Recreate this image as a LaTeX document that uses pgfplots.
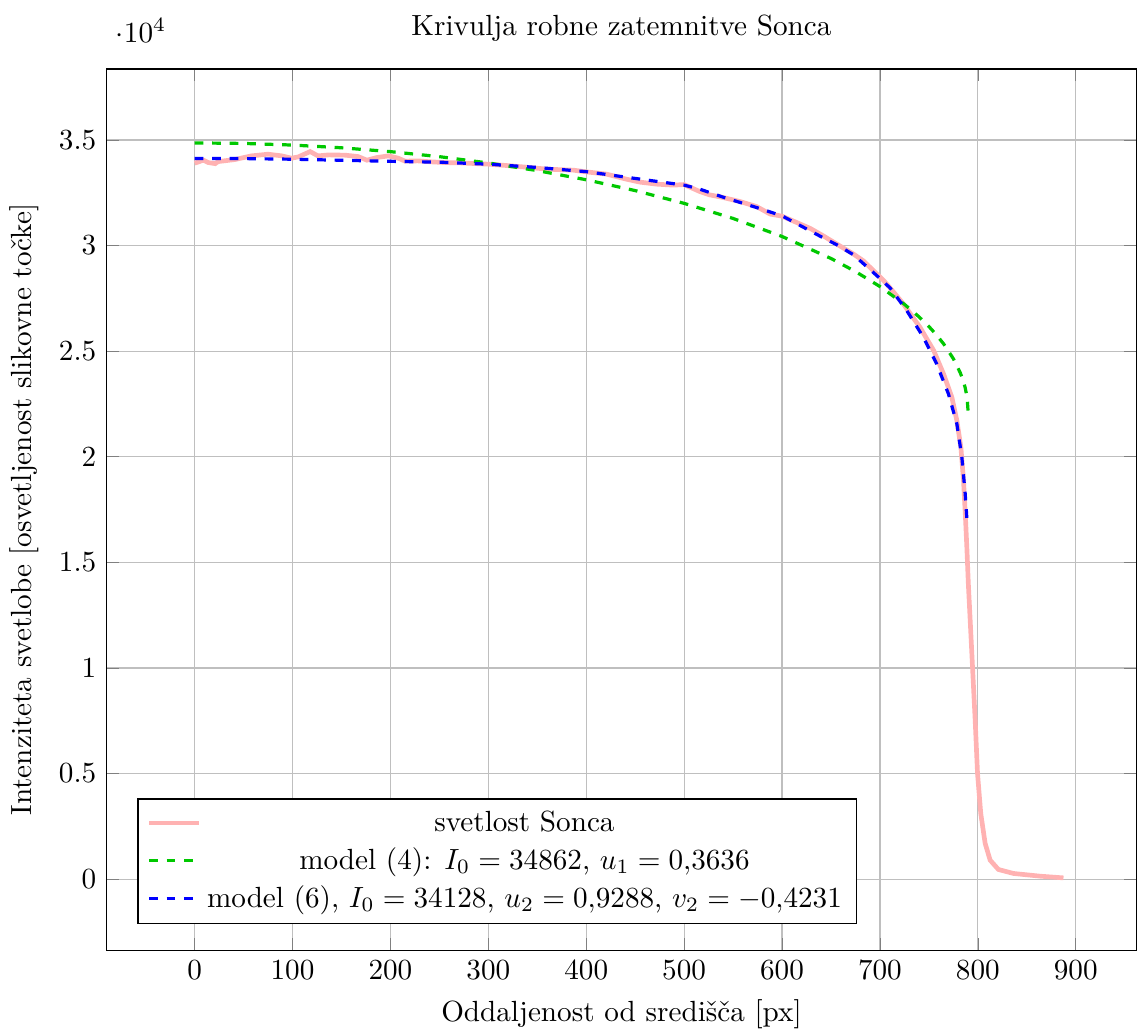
\documentclass[border=0pt]{standalone}
\usepackage{pgfplots}
\pgfplotsset{compat=1.18}
\definecolor{mygreen}{RGB}{0,200,0}
\definecolor{mypink}{RGB}{255,178,178}
\begin{document}
\begin{tikzpicture}
\begin{axis}[
  scale only axis,
  width=353pt, height=302pt,
  xmin=-90, xmax=962,
  ymin=-3360, ymax=38360,
  xtick={0,100,...,900},
  ytick={0,5000,10000,15000,20000,25000,30000,35000},
  grid=major,
  title={Krivulja robne zatemnitve Sonca},
  xlabel={Oddaljenost od središča [px]},
  ylabel={Intenziteta svetlobe [osvetljenost slikovne točke]},
  legend pos=south west,
  legend cell align=center,
]
\addplot[mypink, line width=1.6pt] coordinates {
(0,33903) (4,33964) (9,34044) (14,33931) (21,33880) (24,33978) (41,34073) (58,34248)
(75,34328) (89,34248) (99,34139) (106,34200) (118,34452) (126,34248) (137,34295)
(154,34281) (167,34215) (176,34044) (186,34168) (198,34248) (208,34139) (215,33997)
(228,34011) (242,33964) (256,33930) (271,33917) (300,33855) (319,33790) (339,33712)
(360,33618) (387,33571) (400,33491) (421,33382) (441,33146) (455,33004) (472,32909)
(489,32862) (500,32890) (516,32559) (526,32403) (540,32275) (557,32086) (574,31849)
(588,31490) (600,31395) (615,31093) (629,30809) (642,30464) (656,30071) (673,29598)
(683,29281) (697,28652) (704,28335) (710,28018) (724,27233) (741,26126) (755,25024)
(765,23922) (773.5,22815) (778.6,21712) (782.7,20450) (785.4,18875) (787.3,17200)
(788.8,15700) (790.3,14000) (792.2,12252) (794.6,10028) (797.3,7521) (799.7,5000)
(803,3108) (807.5,1689) (812.6,899) (821,459) (836.5,270) (863.7,142) (887.5,61)
};
\addlegendentry{svetlost Sonca}
\addplot[mygreen, line width=1.1pt, dashed] coordinates {
(0,34862) (50,34837) (100,34760) (150,34631) (200,34449) (250,34211) (300,33912)
(350,33550) (400,33117) (450,32604) (500,32000) (550,31285) (600,30432) (650,29391)
(675,28772) (700,28062) (725,27221) (740,26624) (750,26169) (757,25812) (765,25350)
(775,24645) (782,23986) (785,23610) (787,23290) (789,22824) (790,22186)
};
\addlegendentry{model (4): $I_0 = 34862$, $u_1 = 0{,}3636$}
\addplot[blue, line width=1.1pt, dashed] coordinates {
(0,34128) (50,34120) (100,34090) (150,34040) (200,33990) (250,33950) (300,33855)
(350,33700) (400,33500) (450,33180) (500,32862) (516,32673) (540,32290) (574,31802)
(600,31410) (642,30369) (656,30038) (673,29565) (697,28571) (710.5,27990)
(727.5,26916) (744.5,25653) (758,24394) (770,22975) (778.6,21556) (783.7,19976)
(787.1,18245) (789,16949)
};
\addlegendentry{model (6), $I_0 = 34128$, $u_2 = 0{,}9288$, $v_2 = -0{,}4231$}
\end{axis}
\coordinate (bbne) at (current bounding box.north east);
\coordinate (bbsw) at (current bounding box.south west);
\pgfresetboundingbox
\useasboundingbox ([yshift=1.7pt]bbne) rectangle ([yshift=1.7pt]bbsw);
\end{tikzpicture}
\end{document}
